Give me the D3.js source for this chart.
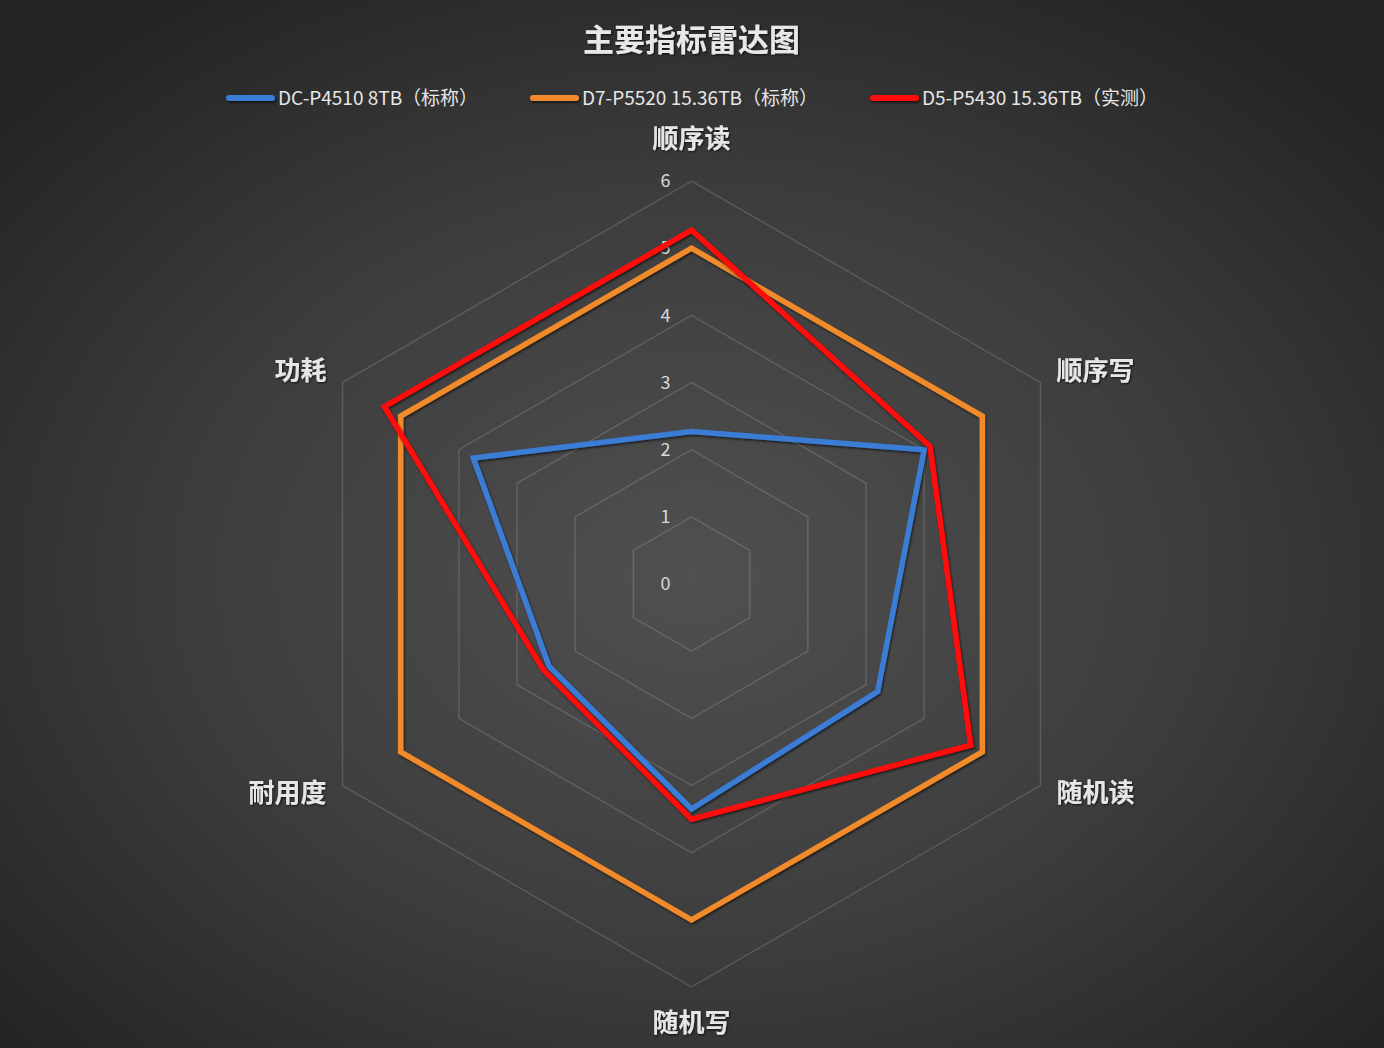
<!DOCTYPE html>
<html>
<head>
<meta charset="utf-8">
<script src="https://cdn.jsdelivr.net/npm/d3@7/dist/d3.min.js"></script>
<style>
  html, body { margin: 0; padding: 0; background: #2a2a2a; }
  svg { display: block; }
  text { font-family: "Noto Sans CJK SC", "Noto Sans", sans-serif; }
</style>
</head>
<body>
<div id="chart"></div>
<script>
const categories = ['顺序读', '顺序写', '随机读', '随机写', '耐用度', '功耗'];
const seriesNames = ['DC-P4510 8TB（标称）', 'D7-P5520 15.36TB（标称）', 'D5-P5430 15.36TB（实测）'];
const p4510 = [2.27, 4.0, 3.2, 3.35, 2.45, 3.75];
const p5520 = [5.0, 5.0, 5.0, 5.0, 5.0, 5.0];
const p5430 = [5.27, 4.1, 4.8, 3.5, 2.55, 5.28];
const tickValues = [0, 1, 2, 3, 4, 5, 6];
const seriesColors = ['#3a7bd5', '#f08a2c', '#ff0a0a'];

const width = 1384;
const height = 1048;
const cx = 691.5;
const cy = 584;
const maxRadius = 403;

const series = [p4510, p5520, p5430];

const svg = d3.select('#chart')
  .append('svg')
  .attr('width', width)
  .attr('height', height);

const defs = svg.append('defs');

const bg = defs.append('radialGradient')
  .attr('id', 'bg')
  .attr('cx', '50%')
  .attr('cy', '55%')
  .attr('r', '65%');
bg.append('stop').attr('offset', '0%').attr('stop-color', '#505050');
bg.append('stop').attr('offset', '55%').attr('stop-color', '#3d3d3d');
bg.append('stop').attr('offset', '100%').attr('stop-color', '#252525');

defs.append('filter')
  .attr('id', 'shadow')
  .attr('filterUnits', 'userSpaceOnUse')
  .attr('x', -800).attr('y', -800)
  .attr('width', 2400).attr('height', 2400)
  .append('feDropShadow')
  .attr('dx', 1)
  .attr('dy', 1.5)
  .attr('stdDeviation', 1.2)
  .attr('flood-color', '#000')
  .attr('flood-opacity', 0.65);

defs.append('filter')
  .attr('id', 'textShadow')
  .append('feDropShadow')
  .attr('dx', 1)
  .attr('dy', 1)
  .attr('stdDeviation', 0.8)
  .attr('flood-color', '#000')
  .attr('flood-opacity', 0.7);

svg.append('rect')
  .attr('width', width)
  .attr('height', height)
  .attr('fill', 'url(#bg)');

const r = d3.scaleLinear().domain([0, 6]).range([0, maxRadius]);
const angle = d3.scalePoint().domain(d3.range(categories.length + 1)).range([0, 2 * Math.PI]);

const plot = svg.append('g').attr('transform', `translate(${cx},${cy})`);

// hexagon grid rings
const ring = d3.lineRadial()
  .angle((d, i) => angle(i))
  .radius(d => r(d))
  .curve(d3.curveLinearClosed);

plot.append('g')
  .selectAll('path')
  .data(tickValues.filter(v => v > 0))
  .join('path')
  .attr('d', v => ring(categories.map(() => v)))
  .attr('fill', 'none')
  .attr('stroke', 'rgba(255,255,255,0.14)')
  .attr('stroke-width', 1.5);

// tick labels
plot.append('g')
  .selectAll('text')
  .data(tickValues)
  .join('text')
  .attr('x', -26)
  .attr('y', v => -r(v))
  .attr('dy', '0.35em')
  .attr('text-anchor', 'middle')
  .attr('font-size', 18)
  .attr('fill', '#d8d8d8')
  .text(v => v);

// series lines
const line = d3.lineRadial()
  .angle((d, i) => angle(i))
  .radius(d => r(d))
  .curve(d3.curveLinearClosed);

plot.append('g')
  .selectAll('path')
  .data(series)
  .join('path')
  .attr('d', d => line(d))
  .attr('fill', 'none')
  .attr('stroke', (d, i) => seriesColors[i])
  .attr('stroke-width', 5.5)
  .attr('stroke-linejoin', 'miter')
  .attr('filter', 'url(#shadow)');

// category labels
function labelPos(i) {
  const a = angle(i);
  const x = Math.sin(a) * maxRadius;
  const y = -Math.cos(a) * maxRadius;
  if (Math.abs(x) < 1) {
    return { x: 0, y: y + (y < 0 ? -42 : 36), anchor: 'middle' };
  }
  return {
    x: x + (x > 0 ? 16 : -16),
    y: y + (y < 0 ? -12 : 7),
    anchor: x > 0 ? 'start' : 'end',
  };
}

plot.append('g')
  .selectAll('text')
  .data(categories)
  .join('text')
  .attr('x', (d, i) => labelPos(i).x)
  .attr('y', (d, i) => labelPos(i).y)
  .attr('dy', '0.35em')
  .attr('text-anchor', (d, i) => labelPos(i).anchor)
  .attr('font-size', 26)
  .attr('font-weight', 'bold')
  .attr('fill', '#e6e6e6')
  .attr('filter', 'url(#textShadow)')
  .text(d => d);

// title
svg.append('text')
  .attr('x', cx)
  .attr('y', 40)
  .attr('dy', '0.35em')
  .attr('text-anchor', 'middle')
  .attr('font-size', 31)
  .attr('font-weight', 'bold')
  .attr('fill', '#e8e8e8')
  .attr('filter', 'url(#textShadow)')
  .text('主要指标雷达图');

// legend
const legendX = [226, 530, 870];
const legend = svg.append('g')
  .selectAll('g')
  .data(seriesNames)
  .join('g')
  .attr('transform', (d, i) => `translate(${legendX[i]},98)`);

legend.append('rect')
  .attr('x', 0)
  .attr('y', -3)
  .attr('width', 49)
  .attr('height', 6)
  .attr('rx', 3)
  .attr('fill', (d, i) => seriesColors[i])
  .attr('filter', 'url(#shadow)');

legend.append('text')
  .attr('x', 52)
  .attr('dy', '0.35em')
  .attr('font-size', 19)
  .attr('fill', '#e6e6e6')
  .text(d => d);
</script>
</body>
</html>
